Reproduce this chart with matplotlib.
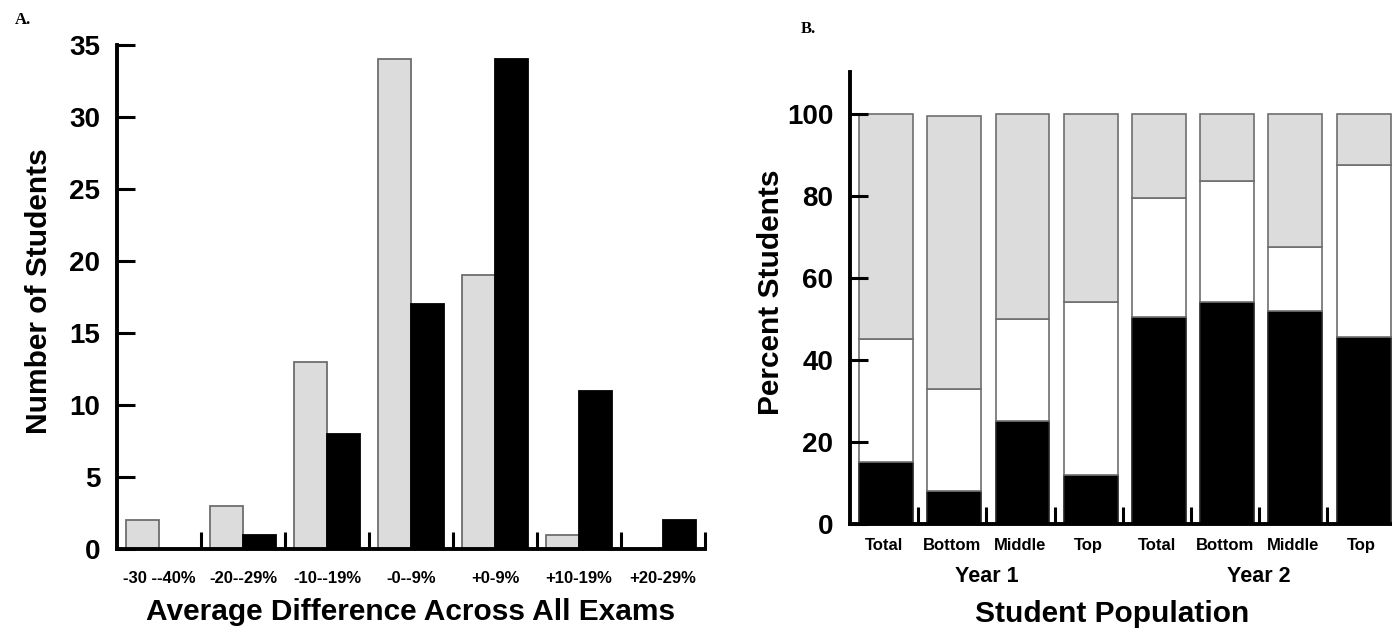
import numpy as np
import matplotlib
matplotlib.use("Agg")
import matplotlib.pyplot as plt
from matplotlib.transforms import blended_transform_factory

plt.rcParams['font.family'] = ['Liberation Sans', 'DejaVu Sans']
plt.rcParams['font.weight'] = 'bold'

# Панель A: распределение разницы по экзаменам
bins_a = ['-30 --40%', '-20--29%', '-10--19%', '-0--9%', '+0-9%', '+10-19%', '+20-29%']
light_counts = [2, 3, 13, 34, 19, 1, 0]
dark_counts = [0, 1, 8, 17, 34, 11, 2]

# Панель B: доли студентов (снизу вверх: чёрный, белый, серый)
groups_b = ['Total', 'Bottom', 'Middle', 'Top', 'Total', 'Bottom', 'Middle', 'Top']
years_b = ['Year 1', 'Year 2']
black_pct = [15, 8, 25, 12, 50.5, 54, 52, 45.5]
white_pct = [30, 25, 25, 42, 29, 29.5, 15.5, 42]
gray_pct = [55, 66.5, 50, 46, 20.5, 16.5, 32.5, 12.5]

LIGHT = '#dcdcdc'
EDGE = '#6e6e6e'


def style_axes(ax):
    for side in ['top', 'right']:
        ax.spines[side].set_visible(False)
    for side in ['left', 'bottom']:
        ax.spines[side].set_linewidth(2.8)
    ax.tick_params(axis='y', direction='in', length=13, width=2.2,
                   labelsize=20, pad=12)
    ax.tick_params(axis='x', which='major', length=0)
    ax.tick_params(axis='x', which='minor', direction='in', length=12, width=2.2)


fig = plt.figure(figsize=(13.92, 6.3), dpi=100)

# ---- A ----
ax1 = fig.add_axes([0.0841, 0.1286, 0.4224, 0.8])
x = np.arange(len(bins_a))
w = 0.39
ax1.bar(x - w / 2, light_counts, w, color=LIGHT, edgecolor=EDGE, linewidth=1.3)
ax1.bar(x + w / 2, dark_counts, w, color='black', edgecolor='black', linewidth=1.3)
ax1.set_xlim(-0.5, len(bins_a) - 0.5)
ax1.set_ylim(0, 35)
ax1.set_yticks(range(0, 36, 5))
ax1.set_xticks(x)
ax1.set_xticklabels(bins_a, fontsize=12)
ax1.set_xticks(x + 0.5, minor=True)
style_axes(ax1)
ax1.tick_params(axis='x', which='major', pad=16)
ax1.text(-0.133, 0.512, 'Number of Students', rotation=90, fontsize=21.5,
         ha='center', va='center', transform=ax1.transAxes)
ax1.text(0.5, -0.125, 'Average Difference Across All Exams', fontsize=21.5,
         ha='center', va='center', transform=ax1.transAxes)
fig.text(0.011, 0.962, 'A.', family='Liberation Serif', fontsize=12)

# ---- B ----
ax2 = fig.add_axes([0.6106, 0.1683, 0.392, 0.7175])
xb = np.arange(len(groups_b))
wb = 0.79
bottom_white = np.array(black_pct)
bottom_gray = bottom_white + np.array(white_pct)
ax2.bar(xb + 0.03, black_pct, wb, color='black', edgecolor='#222222', linewidth=1.2)
ax2.bar(xb + 0.03, white_pct, wb, bottom=bottom_white, color='white',
        edgecolor=EDGE, linewidth=1.2)
ax2.bar(xb + 0.03, gray_pct, wb, bottom=bottom_gray, color=LIGHT,
        edgecolor=EDGE, linewidth=1.2)
ax2.set_xlim(-0.5, len(groups_b) - 0.5)
ax2.set_ylim(0, 110.2)
ax2.set_yticks(range(0, 101, 20))
ax2.set_xticks(xb)
ax2.set_xticklabels(groups_b, fontsize=12)
ax2.set_xticks(xb + 0.5, minor=True)
style_axes(ax2)
ax2.tick_params(axis='x', which='major', pad=10)

trans = blended_transform_factory(ax2.transData, ax2.transAxes)
for pos, label in zip([1.5, 5.5], years_b):
    ax2.text(pos, -0.117, label, fontsize=15.5, ha='center', va='center',
             transform=trans)
ax2.text(3.35, -0.199, 'Student Population', fontsize=21.5, ha='center',
         va='center', transform=trans)
ax2.text(-0.145, 0.513, 'Percent Students', rotation=90, fontsize=21.5,
         ha='center', va='center', transform=ax2.transAxes)
fig.text(0.575, 0.948, 'B.', family='Liberation Serif', fontsize=12)

fig.savefig('out.png', dpi=100)
